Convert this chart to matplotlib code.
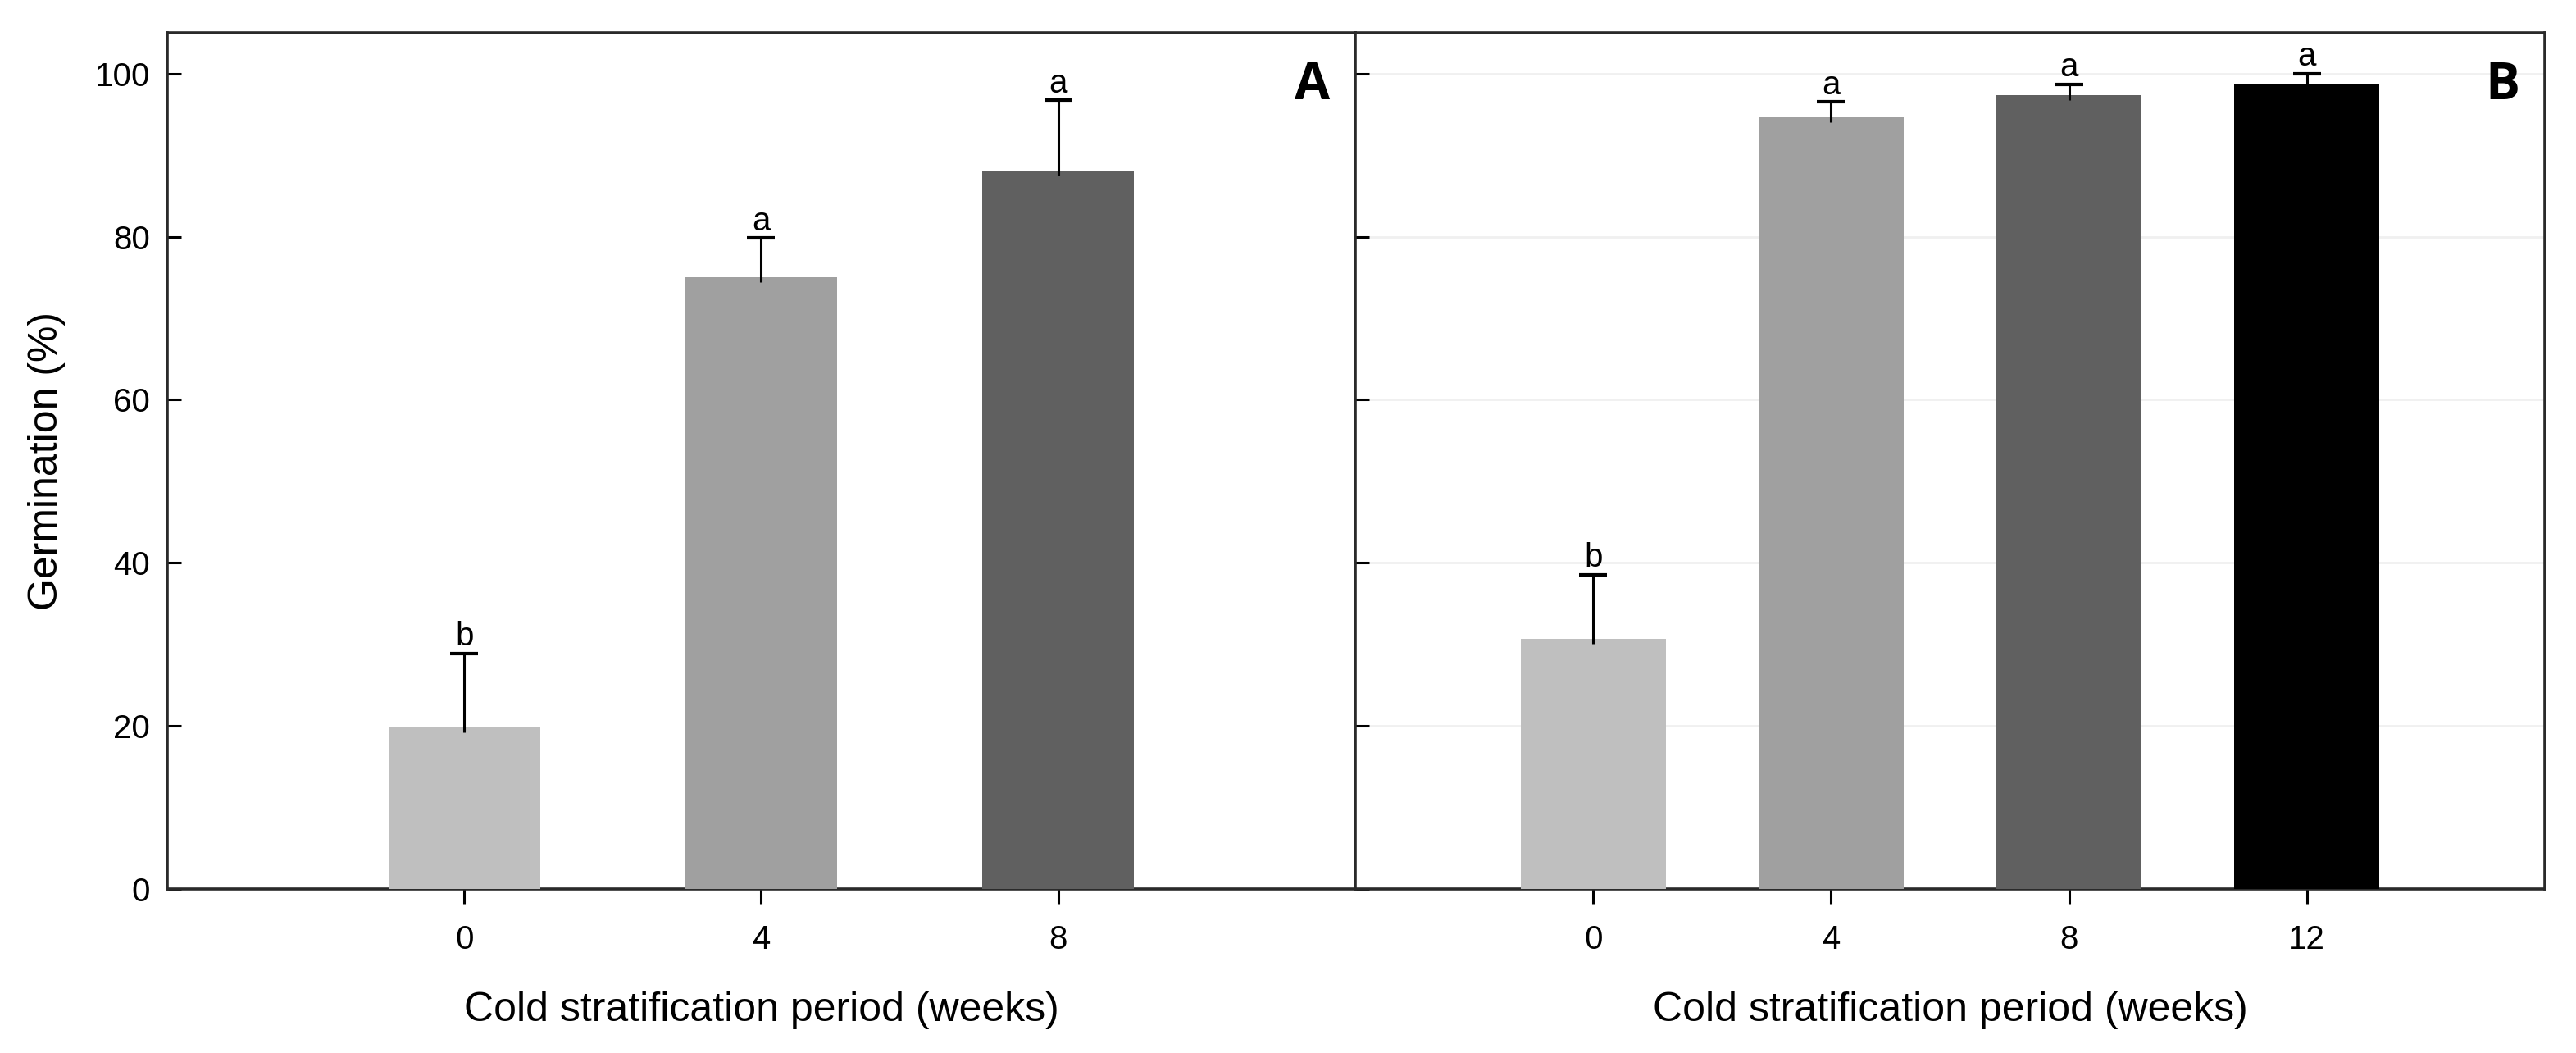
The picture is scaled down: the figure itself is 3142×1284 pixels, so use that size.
import matplotlib.pyplot as plt

# data
weeks_a = ['0', '4', '8']
germ_a = [19.8, 75.0, 88.1]
err_a = [9.1, 4.8, 8.6]
sig_a = ['b', 'a', 'a']

weeks_b = ['0', '4', '8', '12']
germ_b = [30.7, 94.6, 97.3, 98.8]
err_b = [7.8, 1.9, 1.4, 1.2]
sig_b = ['b', 'a', 'a', 'a']

colors = ['#bfbfbf', '#a0a0a0', '#606060', '#000000']

plt.rcParams['font.family'] = ['Liberation Sans', 'DejaVu Sans']

fig = plt.figure(figsize=(31.42, 12.84), dpi=100)
ax_a = fig.add_axes([0.0649, 0.1558, 0.4612, 0.8131])
ax_b = fig.add_axes([0.5261, 0.1558, 0.4618, 0.8131])


def draw_panel(ax, labels, vals, errs, sig, width, letter):
    x = list(range(len(labels)))
    ax.bar(x, vals, width=width, color=colors[:len(labels)], zorder=3)
    # upper error bars only
    tops = [v + e for v, e in zip(vals, errs)]
    ax.vlines(x, [v - 0.6 for v in vals], tops, color='black', linewidth=2.2, zorder=4)
    ax.plot(x, tops, ls='none', marker='_', markersize=24, markeredgewidth=3,
            color='black', zorder=4)
    for xi, t, s in zip(x, tops, sig):
        ax.text(xi, t + 1.0, s, ha='center', va='baseline', fontsize=29)
    ax.set_xticks(x)
    ax.set_xticklabels(labels)
    ax.set_xlim(-1, len(labels))
    ax.set_ylim(0, 105)
    ax.set_yticks([0, 20, 40, 60, 80, 100])
    ax.set_xlabel('Cold stratification period (weeks)', fontsize=36, labelpad=32)
    ax.tick_params(axis='x', direction='out', length=13, width=2.2, labelsize=29, pad=18)
    ax.tick_params(axis='y', direction='in', length=12, width=2.2, labelsize=29, pad=15)
    for sp in ax.spines.values():
        sp.set_linewidth(2.6)
        sp.set_color('#2a2a2a')
    ax.text(0.979, 0.968, letter, transform=ax.transAxes, ha='right', va='top',
            fontsize=45, fontweight='bold', family='Open Sans')


draw_panel(ax_a, weeks_a, germ_a, err_a, sig_a, 0.51, 'A')
ax_a.set_ylabel('Germination (%)', fontsize=36)
ax_a.yaxis.set_label_coords(-0.0856, 0.5)

draw_panel(ax_b, weeks_b, germ_b, err_b, sig_b, 0.61, 'B')
ax_b.tick_params(axis='y', labelleft=False)
ax_b.yaxis.grid(True, color='#f0f0f0', linewidth=2, zorder=0)
ax_b.set_axisbelow(True)

fig.savefig('out.png', dpi=100)
